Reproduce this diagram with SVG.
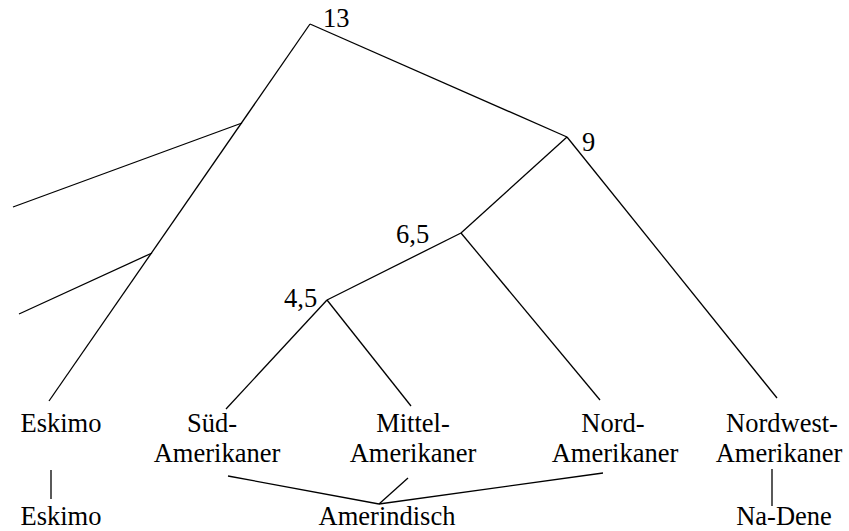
<svg xmlns="http://www.w3.org/2000/svg" width="849" height="531" viewBox="0 0 849 531">
  <style>
    .edge { stroke: #000; stroke-width: 1.3; fill: none; stroke-linecap: butt; }
    .lbl { font-family: 'Times New Roman', Tinos, Times, 'Liberation Serif', 'DejaVu Serif', serif; font-size: 26.5px; fill: #000; }
    .mid { text-anchor: middle; }
  </style>
  <rect width="849" height="531" fill="#fff"/>

  <!-- tree branches -->
  <g id="connectors">
    <line class="edge" x1="310" y1="24" x2="49" y2="401"/>
    <line class="edge" x1="242" y1="123" x2="13" y2="207"/>
    <line class="edge" x1="152" y1="253" x2="19" y2="314"/>
    <line class="edge" x1="310" y1="24" x2="567" y2="137"/>
    <line class="edge" x1="567" y1="137" x2="777" y2="398"/>
    <line class="edge" x1="567" y1="137" x2="461" y2="233"/>
    <line class="edge" x1="461" y1="233" x2="600" y2="400"/>
    <line class="edge" x1="461" y1="233" x2="327" y2="300"/>
    <line class="edge" x1="327" y1="300" x2="226" y2="409"/>
    <line class="edge" x1="327" y1="300" x2="411" y2="406"/>
    <!-- language families -->
    <line class="edge" x1="51" y1="470" x2="51" y2="499"/>
    <line class="edge" x1="772" y1="469" x2="772" y2="506"/>
    <line class="edge" x1="228" y1="476" x2="379" y2="504"/>
    <line class="edge" x1="408" y1="478" x2="379" y2="504"/>
    <line class="edge" x1="603" y1="473" x2="379" y2="504"/>
  </g>

  <!-- branch point ages -->
  <g id="age-13"><text class="lbl" x="323" y="27">13</text></g>
  <g id="age-9"><text class="lbl" x="582" y="151">9</text></g>
  <g id="age-6-5"><text class="lbl" x="396" y="243">6,5</text></g>
  <g id="age-4-5"><text class="lbl" x="284" y="307">4,5</text></g>

  <!-- populations -->
  <g id="eskimo"><text class="lbl mid" x="61" y="432">Eskimo</text></g>
  <g id="sued"><text class="lbl mid" x="212" y="432">Süd-</text><text class="lbl mid" x="217" y="462">Amerikaner</text></g>
  <g id="mittel"><text class="lbl mid" x="413" y="432">Mittel-</text><text class="lbl mid" x="413" y="462">Amerikaner</text></g>
  <g id="nord"><text class="lbl mid" x="613" y="432">Nord-</text><text class="lbl mid" x="615" y="462">Amerikaner</text></g>
  <g id="nordwest"><text class="lbl mid" x="782" y="432">Nordwest-</text><text class="lbl mid" x="779" y="462">Amerikaner</text></g>

  <!-- language families -->
  <g id="lang-eskimo"><text class="lbl mid" x="61" y="525">Eskimo</text></g>
  <g id="lang-amerindisch"><text class="lbl mid" x="387" y="525">Amerindisch</text></g>
  <g id="lang-nadene"><text class="lbl mid" x="784" y="525">Na-Dene</text></g>
</svg>
